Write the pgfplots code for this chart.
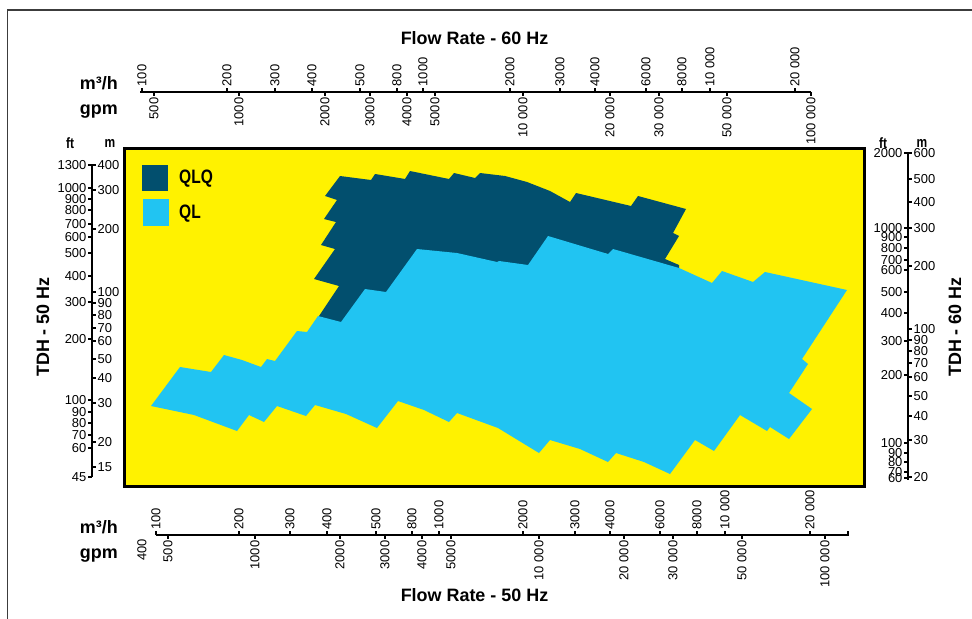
\documentclass[border=0pt]{standalone}
\usepackage{fontspec}
\setmainfont{Liberation Sans}
\newfontfamily\condfont{Liberation Sans}[FakeStretch=0.8]
\usepackage{pgfplots}
\pgfplotsset{compat=1.18}

\definecolor{bgyellow}{RGB}{255,242,0}
\definecolor{qlq}{RGB}{2,79,110}
\definecolor{ql}{RGB}{33,196,242}
\definecolor{frame}{RGB}{60,60,60}

\tikzset{
  tlab/.style={font=\fontsize{13}{13}\selectfont, inner sep=1bp},
  blab/.style={font=\bfseries\fontsize{18}{18}\selectfont, inner sep=0pt},
  slab/.style={font=\condfont\bfseries\fontsize{15}{15}\selectfont, inner sep=0pt},
  sline/.style={line width=1.6bp},
  stick/.style={line width=1.2bp},
}

% tick helpers: position/label, all in pixel coordinates of the picture
\def\TickTopM#1/#2\relax{\draw[stick] (axis cs:#1,92) -- (axis cs:#1,88) node[tlab,rotate=90,anchor=west]{#2};}
\def\TickTopG#1/#2\relax{\draw[stick] (axis cs:#1,92) -- (axis cs:#1,96) node[tlab,rotate=90,anchor=east]{#2};}
\def\TickBotM#1/#2\relax{\draw[stick] (axis cs:#1,535) -- (axis cs:#1,531) node[tlab,rotate=90,anchor=west]{#2};}
\def\TickBotG#1/#2\relax{\draw[stick] (axis cs:#1,535) -- (axis cs:#1,539) node[tlab,rotate=90,anchor=east]{#2};}
\def\TickLeftF#1/#2\relax{\draw[stick] (axis cs:92,#1) -- (axis cs:88,#1) node[tlab,anchor=east]{#2};}
\def\TickLeftM#1/#2\relax{\draw[stick] (axis cs:92,#1) -- (axis cs:96,#1) node[tlab,anchor=west]{#2};}
\def\TickRightF#1/#2\relax{\draw[stick] (axis cs:908,#1) -- (axis cs:904,#1) node[tlab,anchor=east]{#2};}
\def\TickRightM#1/#2\relax{\draw[stick] (axis cs:908,#1) -- (axis cs:912,#1) node[tlab,anchor=west]{#2};}

\begin{document}
\begin{tikzpicture}
\begin{axis}[
  at={(0,0)}, anchor=south west,
  width=972bp, height=619bp, scale only axis,
  xmin=0, xmax=972, ymin=0, ymax=619, y dir=reverse,
  hide axis, clip=false,
]
% outer frame
\draw[frame, line width=1.5bp] (axis cs:7.5,619) -- (axis cs:7.5,10) -- (axis cs:972,10);

% plot field
\fill[bgyellow] (axis cs:124.7,148.8) rectangle (axis cs:864.7,486.2);

% QLQ range
\addplot[fill=qlq, draw=none] coordinates {
  (340,176) (371,180) (375,174) (405,179) (410,171) (449,179) (454,173)
  (475,178) (480,173) (505,176) (527,182) (550,191) (570,202) (576,193)
  (631,206) (638,196) (686,209) (673,233) (679,236) (665,259) (679,265)
  (679,272) (613,255) (548,242) (528,270) (417,256) (386,298) (365,295)
  (341,328) (319,320) (319,316) (339,286) (314,279) (335,249) (321,245)
  (336,222) (324,219) (337,200) (325,196)
} -- cycle;

% QL range
\addplot[fill=ql, draw=none] coordinates {
  (151,406) (180,367) (211,372) (224,355) (242,360) (261,367) (267,359)
  (275,361) (297,331) (307,332) (318,316) (341,322) (365,289) (386,292)
  (417,249) (457,253) (497,262) (499,261) (528,265) (548,236) (608,254)
  (613,249) (679,268) (712,283) (722,271) (753,282) (765,272) (847,290)
  (802,359) (808,364) (789,393) (812,409) (789,439) (770,427) (767,431)
  (740,415) (714,451) (695,440) (670,474) (644,462) (616,453) (608,462)
  (580,449) (550,440) (539,453) (498,428) (457,413) (449,422) (424,410)
  (398,401) (377,428) (346,414) (315,405) (306,416) (277,406) (264,422)
  (249,415) (237,431) (194,415)
} -- cycle;

\draw[black, line width=2.7bp] (axis cs:124.7,148.8) rectangle (axis cs:864.7,486.2);

% legend
\fill[qlq] (axis cs:142,165) rectangle (axis cs:168,191);
\fill[ql] (axis cs:143,199) rectangle (axis cs:169,226);
\node[anchor=west, font=\condfont\bfseries\fontsize{19.5}{19.5}\selectfont, inner sep=0pt] at (axis cs:179,179) {QLQ};
\node[anchor=west, font=\condfont\bfseries\fontsize{19.5}{19.5}\selectfont, inner sep=0pt] at (axis cs:179,214) {QL};

% top flow scale (60 Hz)
\node[blab] at (axis cs:474.5,38) {Flow Rate - 60 Hz};
\node[blab, anchor=base east] at (axis cs:118,90) {m³/h};
\node[blab, anchor=base east] at (axis cs:118,114) {gpm};
\draw[sline] (axis cs:140,92) -- (axis cs:811,92);
\pgfplotsinvokeforeach{142/100,227/200,275/300,312/400,360/500,397/800,423/1000,510/2000,560/3000,595/4000,646/6000,682/8000,710/10 000,795/20 000}{\TickTopM#1\relax}
\pgfplotsinvokeforeach{154/500,239/1000,325/2000,370/3000,407/4000,435/5000,523/10 000,610/20 000,659/30 000,727/50 000,811/100 000}{\TickTopG#1\relax}

% bottom flow scale (50 Hz)
\node[blab] at (axis cs:474.5,595) {Flow Rate - 50 Hz};
\node[blab, anchor=base east] at (axis cs:118,533) {m³/h};
\node[blab, anchor=base east] at (axis cs:118,558) {gpm};
\draw[sline] (axis cs:156,535) -- (axis cs:848,535) -- (axis cs:848,531);
\pgfplotsinvokeforeach{156/100,239/200,290/300,327/400,376/500,412/800,439/1000,523/2000,575/3000,610/4000,660/6000,697/8000,725/10 000,810/20 000}{\TickBotM#1\relax}
\pgfplotsinvokeforeach{168/500,255/1000,340/2000,385/3000,422/4000,451/5000,539/10 000,624/20 000,673/30 000,742/50 000,825/100 000}{\TickBotG#1\relax}
\node[tlab, rotate=90, anchor=east] at (axis cs:142,538) {400};

% left head scale (50 Hz)
\node[blab, rotate=90] at (axis cs:43,327) {TDH - 50 Hz};
\node[slab] at (axis cs:70,143) {ft};
\node[slab] at (axis cs:110,143) {m};
\draw[sline] (axis cs:92,165) -- (axis cs:92,477);
\pgfplotsinvokeforeach{165/1300,188/1000,199/900,210/800,224/700,237/600,253/500,276/400,302/300,339/200,400/100,412/90,423/80,435/70,448/60,477/45}{\TickLeftF#1\relax}
\pgfplotsinvokeforeach{165/400,190/300,229/200,292/100,303/90,315/80,328/70,341/60,359/50,378/40,403/30,442/20,467/15}{\TickLeftM#1\relax}

% right head scale (60 Hz)
\node[blab, rotate=90] at (axis cs:955,327) {TDH - 60 Hz};
\node[slab] at (axis cs:883,143) {ft};
\node[slab] at (axis cs:922,143) {m};
\draw[sline] (axis cs:908,153) -- (axis cs:908,480);
\pgfplotsinvokeforeach{153/2000,228/1000,237/900,248/800,260/700,270/600,292/500,313/400,341/300,375/200,443/100,453/90,462/80,472/70,478/60}{\TickRightF#1\relax}
\pgfplotsinvokeforeach{153/600,179/500,202/400,228/300,266/200,329/100,340/90,351/80,363/70,377/60,396/50,416/40,440/30,477/20}{\TickRightM#1\relax}
\end{axis}
\pgfresetboundingbox
\path (current axis.south west) rectangle (current axis.north east);
\end{tikzpicture}
\end{document}
